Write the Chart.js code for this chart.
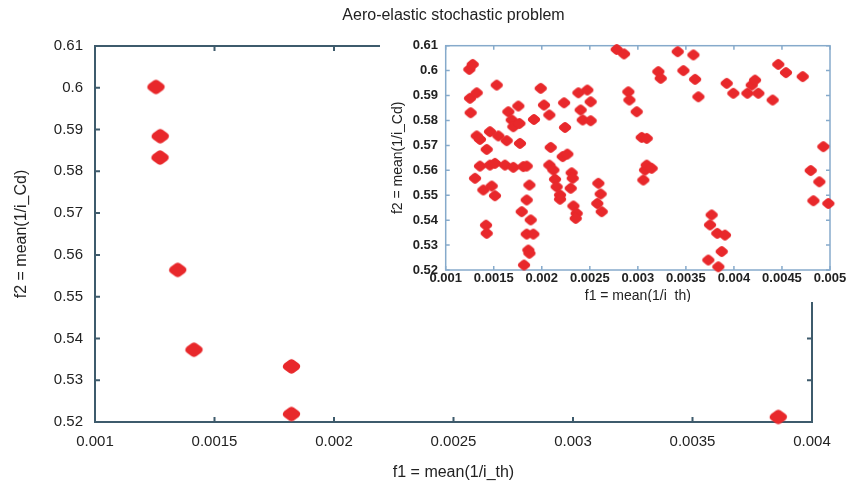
<!DOCTYPE html>
<html>
<head>
<meta charset="utf-8">
<script src="https://cdn.jsdelivr.net/npm/chart.js@4"></script>
<style>
  body { margin: 0; background: #fff; }
  #wrap { position: relative; width: 851px; height: 482px; }
  #insetBox { position: absolute; left: 380px; top: 30px; width: 471px; height: 272px; background: #fff; }
</style>
</head>
<body>
<div id="wrap">
  <canvas id="mainChart" width="851" height="482"></canvas>
  <div id="insetBox"><canvas id="insetChart" width="471" height="272"></canvas></div>
</div>
<script>
// main plot: pareto front
const mainF1 = [0.001255, 0.001273, 0.001272, 0.001346, 0.001414, 0.001822, 0.001822, 0.003859];
const mainF2 = [0.6002, 0.5884, 0.5833, 0.5564, 0.5373, 0.5333, 0.5219, 0.5212];

// inset: all evaluated designs
const insetF1 = [
  0.001246, 0.001281, 0.001253, 0.001323, 0.001260, 0.001323, 0.001357, 0.001461, 0.001548, 0.001635,
  0.001427, 0.001357, 0.001461, 0.001513, 0.001617, 0.001704, 0.001808, 0.001843, 0.001305, 0.001392,
  0.001479, 0.001513, 0.001420, 0.001427, 0.001531, 0.001652, 0.001687, 0.001704, 0.001756, 0.001767,
  0.001773, 0.001871, 0.001843, 0.001791, 0.001885, 0.001843, 0.001912, 0.001860, 0.001871, 0.001815,
  0.001919, 0.001989, 0.002023, 0.002079, 0.002093, 0.002079, 0.002121, 0.002138, 0.002155, 0.002190,
  0.002190, 0.002218, 0.002266, 0.002232, 0.002242, 0.002311, 0.002322, 0.002301, 0.002329, 0.002363,
  0.002353, 0.002381, 0.002405, 0.002426, 0.002474, 0.002509, 0.002509, 0.002589, 0.002613, 0.002578,
  0.002624, 0.002780, 0.002856, 0.002901, 0.002912, 0.002988, 0.003040, 0.003092, 0.003075, 0.003092,
  0.003057, 0.003144, 0.003213, 0.003238, 0.003415, 0.003578, 0.003474, 0.003596, 0.003630, 0.003925,
  0.003994, 0.004140, 0.004185, 0.004220, 0.004254, 0.004403, 0.004462, 0.004542, 0.004716, 0.004931,
  0.004799, 0.004889, 0.004827, 0.004983, 0.003768, 0.003751, 0.003827, 0.003907, 0.003873, 0.003734,
  0.003838
];
const insetF2 = [
  0.6005, 0.6025, 0.5889, 0.5911, 0.5831, 0.5738, 0.5724, 0.5755, 0.5738, 0.5719,
  0.5684, 0.5617, 0.5621, 0.5628, 0.5621, 0.5612, 0.5615, 0.5617, 0.5568, 0.5521,
  0.5537, 0.5498, 0.5380, 0.5347, 0.5942, 0.5835, 0.5802, 0.5775, 0.5858, 0.5788,
  0.5708, 0.5541, 0.5481, 0.5434, 0.5401, 0.5344, 0.5344, 0.5280, 0.5267, 0.5220,
  0.5804, 0.5929, 0.5862, 0.5822, 0.5692, 0.5621, 0.5601, 0.5564, 0.5534, 0.5501,
  0.5484, 0.5655, 0.5665, 0.5871, 0.5772, 0.5590, 0.5568, 0.5528, 0.5457, 0.5427,
  0.5407, 0.5911, 0.5842, 0.5802, 0.5922, 0.5875, 0.5799, 0.5548, 0.5505, 0.5467,
  0.5434, 0.6085, 0.6067, 0.5915, 0.5882, 0.5835, 0.5732, 0.5728, 0.5601, 0.5621,
  0.5561, 0.5608, 0.5996, 0.5969, 0.6076, 0.6063, 0.6000, 0.5965, 0.5895, 0.5949,
  0.5909, 0.5909, 0.5942, 0.5962, 0.5909, 0.5882, 0.6025, 0.5992, 0.5976, 0.5695,
  0.5599, 0.5554, 0.5478, 0.5467, 0.5421, 0.5381, 0.5347, 0.5340, 0.5274, 0.5240,
  0.5213
];

const mainXTicks = [0.001, 0.0015, 0.002, 0.0025, 0.003, 0.0035, 0.004];
const insetXTicks = [0.001, 0.0015, 0.002, 0.0025, 0.003, 0.0035, 0.004, 0.0045, 0.005];
const yTicks = [0.52, 0.53, 0.54, 0.55, 0.56, 0.57, 0.58, 0.59, 0.6, 0.61];

const FONT = "'Liberation Sans', Arial, sans-serif";
const TXT = '#222';
const RED = '#e8282b';

// soft, rounded diamond marker like the scanned figure
function blob(w, h, r) {
  const c = document.createElement('canvas');
  c.width = Math.ceil(w * 2 + 4);
  c.height = Math.ceil(h * 2 + 4);
  const g = c.getContext('2d');
  const cx = c.width / 2, cy = c.height / 2;
  g.filter = 'blur(0.6px)';
  g.fillStyle = RED; g.strokeStyle = RED;
  g.lineJoin = 'round'; g.lineWidth = 2 * r;
  g.beginPath();
  g.moveTo(cx - w + r, cy);
  g.lineTo(cx, cy - h + r);
  g.lineTo(cx + w - r, cy);
  g.lineTo(cx, cy + h - r);
  g.closePath();
  g.fill(); g.stroke();
  return c;
}

// box round the plot with small inward ticks (gnuplot look)
function frame(color, width, len) {
  return {
    id: 'frame',
    beforeDatasetsDraw(chart) {
      const {ctx, chartArea: a, scales: {x, y}} = chart;
      ctx.save();
      ctx.strokeStyle = color;
      ctx.lineWidth = width;
      ctx.strokeRect(a.left, a.top, a.right - a.left, a.bottom - a.top);
      ctx.beginPath();
      x.ticks.forEach(t => {
        const px = x.getPixelForValue(t.value);
        ctx.moveTo(px, a.bottom); ctx.lineTo(px, a.bottom - len);
        ctx.moveTo(px, a.top); ctx.lineTo(px, a.top + len);
      });
      y.ticks.forEach(t => {
        const py = y.getPixelForValue(t.value);
        ctx.moveTo(a.left, py); ctx.lineTo(a.left + len, py);
        ctx.moveTo(a.right, py); ctx.lineTo(a.right - len, py);
      });
      ctx.stroke();
      ctx.restore();
    }
  };
}

const toPoints = (xs, ys) => xs.map((v, i) => ({x: v, y: ys[i]}));

new Chart(document.getElementById('mainChart'), {
  type: 'scatter',
  data: {
    datasets: [{
      data: toPoints(mainF1, mainF2),
      pointStyle: blob(8.5, 7.2, 4),
      clip: false
    }]
  },
  options: {
    responsive: false,
    animation: false,
    layout: {padding: {left: 0, right: 39, top: 0, bottom: 0}},
    plugins: {
      legend: {display: false},
      tooltip: {enabled: false},
      title: {
        display: true,
        fullSize: false,
        text: 'Aero-elastic stochastic problem',
        color: TXT,
        font: {family: FONT, size: 16, weight: 'normal'},
        padding: {top: 6, bottom: 20.8}
      }
    },
    scales: {
      x: {
        type: 'linear',
        min: 0.001, max: 0.004,
        afterBuildTicks: s => { s.ticks = mainXTicks.map(v => ({value: v})); },
        afterFit: s => { s.height = 60; },
        grid: {display: false, drawTicks: false},
        border: {display: false},
        ticks: {callback: v => String(v), color: TXT, font: {family: FONT, size: 15}, padding: 10.5, maxRotation: 0, autoSkip: false},
        title: {display: true, text: 'f1 = mean(1/i_th)', color: TXT, font: {family: FONT, size: 16}, padding: {top: 0, bottom: 0}}
      },
      y: {
        type: 'linear',
        min: 0.52, max: 0.61,
        afterBuildTicks: s => { s.ticks = yTicks.map(v => ({value: v})); },
        afterFit: s => { s.width = 95; },
        grid: {display: false, drawTicks: false},
        border: {display: false},
        ticks: {callback: v => String(v), color: TXT, font: {family: FONT, size: 15}, padding: 12, autoSkip: false},
        title: {display: true, text: 'f2 = mean(1/i_Cd)', color: TXT, font: {family: FONT, size: 16}, padding: {top: 12.4, bottom: 0}}
      }
    }
  },
  plugins: [frame('#3e5b6c', 2, 5)]
});

new Chart(document.getElementById('insetChart'), {
  type: 'scatter',
  data: {
    datasets: [{
      data: toPoints(insetF1, insetF2),
      pointStyle: blob(6, 5.5, 3),
      clip: false
    }]
  },
  options: {
    responsive: false,
    animation: false,
    layout: {padding: {left: 0, right: 21, top: 15.7, bottom: 0}},
    plugins: {legend: {display: false}, tooltip: {enabled: false}},
    scales: {
      x: {
        type: 'linear',
        min: 0.001, max: 0.005,
        afterBuildTicks: s => { s.ticks = insetXTicks.map(v => ({value: v})); },
        afterFit: s => { s.height = 32; },
        grid: {display: false, drawTicks: false},
        border: {display: false},
        ticks: {callback: v => String(v), color: TXT, font: {family: FONT, size: 13, weight: 'bold'}, padding: 0.5, maxRotation: 0, autoSkip: false},
        title: {display: true, text: 'f1 = mean(1/i_th)', color: TXT, font: {family: FONT, size: 14}, padding: {top: 0, bottom: -3}}
      },
      y: {
        type: 'linear',
        min: 0.52, max: 0.61,
        afterBuildTicks: s => { s.ticks = yTicks.map(v => ({value: v})); },
        afterFit: s => { s.width = 65.7; },
        grid: {display: false, drawTicks: false},
        border: {display: false},
        ticks: {callback: v => String(v), color: TXT, font: {family: FONT, size: 13, weight: 'bold'}, padding: 7.7, autoSkip: false},
        title: {display: true, text: 'f2 = mean(1/i_Cd)', color: TXT, font: {family: FONT, size: 14}, padding: {top: 9.6, bottom: 0}}
      }
    }
  },
  plugins: [frame('#86aacb', 1.5, 4)]
});
</script>
</body>
</html>
